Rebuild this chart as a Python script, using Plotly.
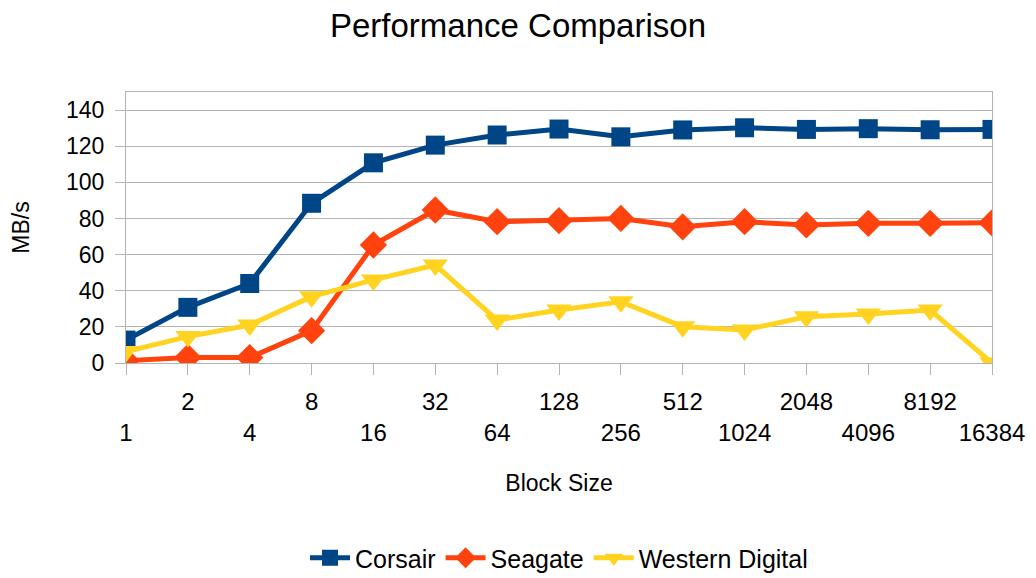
import plotly.graph_objects as go

block_sizes = ["1", "2", "4", "8", "16", "32", "64", "128", "256", "512",
               "1024", "2048", "4096", "8192", "16384"]
corsair = [12.7, 30.8, 44.0, 88.4, 110.8, 120.6, 126.2, 129.5, 125.2, 129.0,
           130.2, 129.3, 129.7, 129.1, 129.3]
seagate = [1.3, 3.1, 3.0, 17.9, 65.3, 84.7, 78.2, 78.8, 80.0, 75.4,
           78.2, 76.4, 77.3, 77.3, 77.6]
western_digital = [6.3, 14.6, 21.0, 36.7, 46.0, 54.2, 23.8, 29.3, 33.9, 20.1,
                   18.3, 25.6, 27.1, 29.3, 0.0]

# staggered labels: even index on lower row, odd index on upper row
tick_text = [("\u00a0<br>" + s) if i % 2 == 0 else (s + "<br>\u00a0")
             for i, s in enumerate(block_sizes)]

FONT = "Liberation Sans, Arial, sans-serif"
fig = go.Figure()
series = [
    ("Corsair", corsair, "#004586", "square", 19),
    ("Seagate", seagate, "#ff420e", "diamond", 21),
    ("Western Digital", western_digital, "#ffd320", "triangle-down", 22),
]
for name, vals, col, sym, sz in series:
    fig.add_trace(go.Scatter(
        x=list(range(len(block_sizes))), y=vals, name=name, mode="lines+markers",
        line=dict(color=col, width=5),
        marker=dict(symbol=sym, size=sz, color=col, line=dict(width=0)),
    ))

fig.update_layout(
    width=1036, height=578,
    paper_bgcolor="white", plot_bgcolor="white",
    margin=dict(l=126, r=44, t=92, b=215),
    font=dict(family=FONT, color="black", size=23),
    title=dict(text="Performance Comparison", x=0.5, xanchor="center",
               y=1 - 25 / 578, yanchor="middle", font=dict(size=33)),
    showlegend=True,
    legend=dict(orientation="h", x=0.5, xanchor="center", yref="container",
                y=1 - 558 / 578, yanchor="middle", font=dict(size=25),
                itemwidth=40),
)
fig.update_xaxes(
    range=[0, len(block_sizes) - 1],
    tickmode="array", tickvals=list(range(len(block_sizes))), ticktext=tick_text,
    tickangle=0,
    showgrid=False, zeroline=False,
    showline=True, linecolor="#b3b3b3", linewidth=1, mirror=True,
    ticks="outside", ticklen=11, tickcolor="#b3b3b3",
    ticklabelstandoff=6,
    title=dict(text="Block Size", standoff=29, font=dict(size=23)),
    tickfont=dict(size=24),
)
fig.update_yaxes(
    range=[0, 150], tickmode="array", tickvals=[0, 20, 40, 60, 80, 100, 120, 140],
    showgrid=True, gridcolor="#b3b3b3", gridwidth=1, zeroline=False,
    showline=True, linecolor="#b3b3b3", linewidth=1, mirror=True,
    ticks="outside", ticklen=10, tickcolor="#b3b3b3",
    ticklabelstandoff=6,
    title=dict(text="MB/s", standoff=29, font=dict(size=23)),
    tickfont=dict(size=23),
)
fig.write_html("out.html", config={"displayModeBar": False},
               post_script="document.body.style.margin='0';document.body.style.overflow='hidden';")
